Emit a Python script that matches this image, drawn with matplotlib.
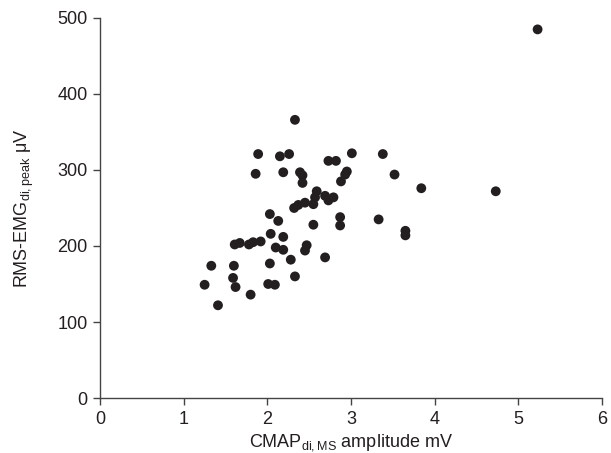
import numpy as np
import matplotlib.pyplot as plt

plt.rcParams['font.family'] = ['Liberation Sans', 'DejaVu Sans']
plt.rcParams['mathtext.fontset'] = 'custom'
plt.rcParams['mathtext.rm'] = 'Liberation Sans'
plt.rcParams['mathtext.it'] = 'Liberation Sans:italic'

# CMAP amplitude (mV) vs RMS-EMG peak (uV)
cmap_amp = [5.23, 4.73, 3.84, 3.52, 3.38, 3.33, 3.65, 3.65,
            2.33, 1.89, 2.15, 2.26, 3.01, 2.73, 2.82, 1.86, 2.19, 2.39, 2.42, 2.42,
            2.95, 2.93, 2.88, 2.59, 2.57, 2.69, 2.73, 2.79, 2.55, 2.45, 2.37, 2.32,
            2.03, 2.13, 2.55, 2.87, 2.87, 2.04, 2.19,
            1.61, 1.67, 1.78, 1.83, 1.92, 2.10, 2.19, 2.28, 2.45, 2.47,
            1.33, 1.60, 2.03, 1.59, 1.62, 1.25, 2.01, 2.09, 2.33, 1.80, 1.41, 2.69]
rms_emg = [485, 272, 276, 294, 321, 235, 220, 214,
           366, 321, 318, 321, 322, 312, 312, 295, 297, 297, 293, 283,
           298, 294, 285, 272, 264, 266, 260, 264, 255, 257, 254, 250,
           242, 233, 228, 238, 227, 216, 212,
           202, 204, 202, 205, 206, 198, 195, 182, 194, 201,
           174, 174, 177, 158, 146, 149, 150, 149, 160, 136, 122, 185]

fig = plt.figure(figsize=(6.11, 4.53), dpi=100)
ax = fig.add_axes([0.1637, 0.1214, 0.8216, 0.8389])

ax.scatter(cmap_amp, rms_emg, s=50, color='#231f20', edgecolors='none', zorder=3)

ax.set_xlim(0, 6)
ax.set_ylim(0, 500)
ax.set_xticks(range(0, 7))
ax.set_yticks(range(0, 501, 100))

for s in ['top', 'right']:
    ax.spines[s].set_visible(False)
for s in ['left', 'bottom']:
    ax.spines[s].set_color('#444444')
    ax.spines[s].set_linewidth(1.0)
ax.tick_params(direction='out', length=5, width=1.0, color='#444444',
               labelsize=13, labelcolor='#231f20', pad=4)

ax.set_xlabel(r'CMAP$_{\mathrm{di,MS}}$ amplitude mV', fontsize=13,
              color='#231f20', labelpad=3)
ax.set_ylabel(r'RMS-EMG$_{\mathrm{di,peak}}$ μV', fontsize=13,
              color='#231f20', labelpad=15)

fig.savefig('out.png', dpi=100)
